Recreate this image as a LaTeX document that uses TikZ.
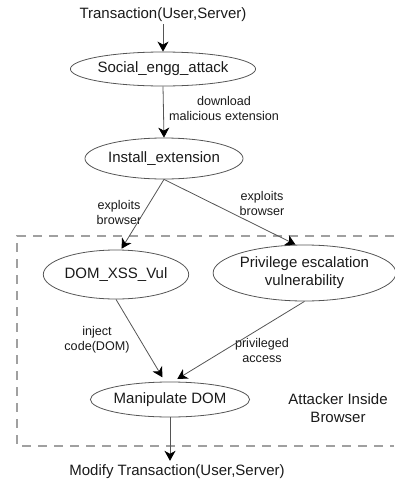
\documentclass[tikz,border=0pt]{standalone}
\usepackage{fontspec}
\setmainfont{Liberation Sans}
\usetikzlibrary{shapes.geometric,arrows.meta}
\definecolor{txt}{HTML}{1A1A1A}
\definecolor{edgegray}{HTML}{555555}
\definecolor{dashgray}{HTML}{A0A0A0}
\begin{document}
\begin{tikzpicture}[x=1pt,y=-1pt,
  every node/.style={text=txt},
  main/.style={font=\fontsize{15}{18}\selectfont, align=center, inner sep=0pt},
  lbl/.style={font=\fontsize{12.6}{15}\selectfont, align=center, inner sep=0pt},
  oval/.style={ellipse, draw=edgegray, line width=0.8pt, inner sep=0pt,
    font=\fontsize{15}{18}\selectfont, align=center},
  conn/.style={draw=edgegray, line width=0.8pt,
    -{Stealth[length=10pt,width=11pt,inset=3pt,color=black]}},
  frame/.style={draw=dashgray, line width=1.2pt, dash pattern=on 9pt off 7pt}
]
\useasboundingbox (0,0) rectangle (394,479);

% dashed region
\coordinate (fa) at (394,236);
\coordinate (fb) at (17,236);
\coordinate (fc) at (17,446);
\coordinate (fd) at (394,446);
\draw[frame] (fa) -- (fb) -- (fc) -- (fd);

% nodes
\node[main] (t) at (163,15) {Transaction(User,Server)};
\node[oval, minimum width=160pt, minimum height=34pt] (s) at (163,69) {Social\_engg\_attack};
\node[oval, minimum width=146pt, minimum height=41pt] (i) at (164,158.5) {Install\_extension};
\node[oval, minimum width=142pt, minimum height=49pt] (d) at (116,274.5) {DOM\_XSS\_Vul};
\node[oval, minimum width=165pt, minimum height=56pt] (p) at (304.5,273) {Privilege escalation\\vulnerability};
\node[oval, minimum width=152pt, minimum height=35pt] (m) at (170,399.5) {Manipulate DOM};
\node[main] (b) at (177,472) {Modify Transaction(User,Server)};
\node[main] (att) at (338,408) {Attacker Inside\\Browser};

% labels
\node[lbl] (l1) at (224,108.5) {download\\malicious extension};
\node[lbl] (l2) at (119,212) {exploits\\browser};
\node[lbl] (l3) at (262,203.5) {exploits\\browser};
\node[lbl] (l4) at (97,339.5) {inject\\code(DOM)};
\node[lbl] (l5) at (262,350.5) {privileged\\access};

% connectors
\draw[conn, shorten <=2pt] (t.south) -- (s.north);
\draw[conn] (s.south) -- (i.north);
\draw[conn, shorten >=1pt] (i.south) -- ([xshift=5pt]d.north);
\draw[conn] (i.south) -- ([xshift=-9pt]p.north);
\draw[conn, shorten >=5pt] (d.south) -- ([xshift=-5pt]m.north);
\draw[conn, shorten >=5pt] (p.south) -- ([xshift=3pt]m.north);
\draw[conn, shorten >=4pt] (m.south) -- (m.south |- b.north);
\end{tikzpicture}
\end{document}
